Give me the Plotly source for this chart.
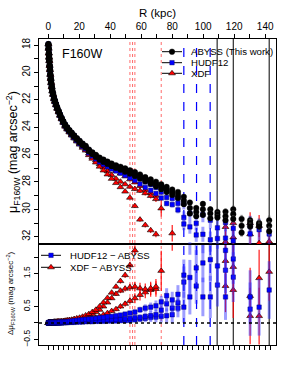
import math
import plotly.graph_objects as go

# ---------------- data ----------------
R_kpc = [0.08, 0.2, 0.35, 0.5, 0.65, 0.85, 1.05, 1.3, 1.55, 1.85, 2.2, 2.6, 3.1, 3.7, 4.3, 5.0,
         5.8, 6.7, 7.6, 8.6, 9.7, 10.9, 12.2, 13.6, 15.1, 16.7, 18.4, 20.2, 22.1, 24.1, 26.2,
         28.4, 30.7, 33.1, 35.6, 38.2, 40.9, 43.7, 46.6, 49.6, 52.7, 55.9, 59.2, 62.6, 66.1,
         69.5, 72.9, 76.4, 80.0, 83.7, 87.5, 91.4, 95.5, 99.8, 104.6, 109.2, 114.4, 119.4,
         124.8, 130.3, 136.1, 142.6]

abyss_1 = [17.93, 18.23, 18.58, 18.88, 19.13, 19.48, 19.78, 20.13, 20.43, 20.73, 21.03, 21.33,
           21.58, 21.88, 22.08, 22.33, 22.58, 22.83, 23.08, 23.33, 23.57, 23.81, 24.01, 24.21,
           24.40, 24.60, 24.80, 24.99, 25.19, 25.36, 25.63, 25.83, 26.02, 26.22, 26.36, 26.51,
           26.65, 26.78, 26.89, 27.01, 27.14, 27.28, 27.45, 27.65, 27.81, 27.98, 28.17, 28.36,
           28.55, 28.73, 29.08, 29.5, 29.9, 29.6, 30.0, 30.2, 30.17, 30.0, 30.7, 30.8, 31.0, 30.8]
abyss_2 = [17.95, 18.25, 18.6, 18.9, 19.15, 19.5, 19.8, 20.15, 20.45, 20.75, 21.05, 21.35,
           21.6, 21.9, 22.1, 22.35, 22.6, 22.85, 23.1, 23.35, 23.6, 23.85, 24.05, 24.25,
           24.45, 24.65, 24.85, 25.05, 25.25, 25.42, 25.7, 25.9, 26.1, 26.3, 26.45, 26.6,
           26.75, 26.88, 27.0, 27.13, 27.27, 27.42, 27.6, 27.8, 27.97, 28.15, 28.35, 28.55,
           28.75, 28.95, 29.35, 29.9, 30.2, 30.0, 30.3, 30.4, 30.5, 30.35, 31.2, 31.0, 31.1, 31.2]
abyss_3 = [17.97, 18.27, 18.62, 18.92, 19.17, 19.52, 19.82, 20.17, 20.47, 20.77, 21.07, 21.37,
           21.62, 21.92, 22.12, 22.37, 22.62, 22.87, 23.12, 23.37, 23.63, 23.89, 24.09, 24.29,
           24.50, 24.70, 24.90, 25.11, 25.31, 25.48, 25.77, 25.97, 26.18, 26.38, 26.54, 26.69,
           26.85, 26.98, 27.11, 27.25, 27.40, 27.56, 27.75, 27.95, 28.13, 28.32, 28.53, 28.74,
           28.95, 29.17, 29.62, 30.3, 30.5, 30.4, 30.65, 30.6, 30.8, 30.7, 31.7, 31.26, 31.26, 31.6]

# HUDF12 - ABYSS (one per profile)
d_hudf_1 = [0.0, 0.0, 0.0, 0.0, 0.0, 0.0, 0.0, 0.0, 0.0, 0.0, 0.0, 0.0, 0.0, 0.0, 0.0, 0.0,
            0.0, 0.0, 0.0, 0.0, 0.01, 0.01, 0.01, 0.02, 0.02, 0.02, 0.03, 0.03, 0.03, 0.04, 0.04,
            0.04, 0.05, 0.05, 0.05, 0.06, 0.06, 0.06, 0.07, 0.07, 0.08, 0.10, 0.12, 0.14, 0.17,
            0.18, 0.20, 0.22, 0.25, 0.45, 0.48, 0.79, 1.12, 0.79, 0.79, 1.15, 0.79, 1.39,
            None, 0.42, 0.48, 1.0]
d_hudf_2 = [0.0, 0.0, 0.01, 0.01, 0.01, 0.01, 0.01, 0.01, 0.01, 0.01, 0.01, 0.01, 0.01, 0.01,
            0.01, 0.01, 0.01, 0.01, 0.02, 0.02, 0.02, 0.02, 0.03, 0.03, 0.04, 0.04, 0.05, 0.05,
            0.06, 0.06, 0.07, 0.07, 0.08, 0.08, 0.09, 0.10, 0.10, 0.11, 0.12, 0.13, 0.14, 0.16,
            0.17, 0.20, 0.22, 0.25, 0.39, 0.58, 0.45, 0.61, 1.24, 1.38, 1.67, 1.82, 1.92, 1.73,
            1.6, 1.94, None, 0.79, None, None]
d_hudf_3 = [0.0, 0.01, 0.01, 0.01, 0.01, 0.02, 0.02, 0.02, 0.02, 0.02, 0.02, 0.02, 0.02, 0.02,
            0.02, 0.02, 0.02, 0.02, 0.03, 0.03, 0.03, 0.03, 0.04, 0.05, 0.06, 0.07, 0.08, 0.09,
            0.10, 0.11, 0.12, 0.13, 0.14, 0.16, 0.17, 0.19, 0.20, 0.22, 0.24, 0.27, 0.30, 0.33,
            0.40, 0.45, 0.48, 0.52, 0.64, 0.83, 0.70, 0.87, 1.45, 2.6, 2.6, 2.7, 2.8, 2.9,
            2.2, 2.7, None, None, None, None]

# XDF - ABYSS (one per profile)
d_xdf_1 = [0.0, 0.0, 0.0, 0.0, 0.01, 0.01, 0.01, 0.01, 0.01, 0.01, 0.01, 0.01, 0.01, 0.02,
           0.02, 0.02, 0.02, 0.02, 0.02, 0.03, 0.03, 0.03, 0.04, 0.04, 0.05, 0.05, 0.06, 0.07,
           0.08, 0.09, 0.11, 0.13, 0.16, 0.20, 0.25, 0.30, 0.36, 0.42, 0.50, 0.58, 0.67, 0.75,
           0.85, 0.93, 1.0, 1.03, None, None, None, None, None, None, None, None, None, None,
           1.12, 1.0, None, 0.21, 0.21, 1.55]
d_xdf_2 = [0.0, 0.01, 0.01, 0.01, 0.01, 0.01, 0.02, 0.02, 0.02, 0.02, 0.02, 0.02, 0.02, 0.03,
           0.03, 0.03, 0.03, 0.03, 0.04, 0.04, 0.05, 0.06, 0.07, 0.08, 0.09, 0.10, 0.11, 0.13,
           0.15, 0.18, 0.22, 0.27, 0.33, 0.40, 0.50, 0.62, 0.75, 0.88, 0.98, 1.04, 1.08, 1.10,
           1.05, 1.02, 1.05, 1.10, 1.58, None, None, None, None, None, None, None, None, None,
           1.88, 1.7, None, 0.82, 1.36, None]
d_xdf_3 = [0.0, 0.01, 0.01, 0.02, 0.02, 0.02, 0.02, 0.02, 0.03, 0.03, 0.03, 0.03, 0.03, 0.04,
           0.04, 0.04, 0.05, 0.05, 0.05, 0.05, 0.06, 0.07, 0.08, 0.09, 0.10, 0.12, 0.14, 0.16,
           0.19, 0.23, 0.27, 0.33, 0.40, 0.50, 0.62, 0.76, 0.92, 1.10, 1.27, 1.45, 1.75, 2.2,
           3.0, 3.2, 3.4, 3.5, None, None, 2.8, None, None, None, None, None, None, None,
           2.6, 2.6, None, None, None, None]

err_abyss = [0] * 36 + [0.02, 0.02, 0.03, 0.03, 0.04, 0.05, 0.05, 0.06, 0.07, 0.08, 0.09, 0.10,
                        0.11, 0.12, 0.15, 0.18, 0.20, 0.20, 0.22, 0.25, 0.25, 0.28, 0.30, 0.30,
                        0.32, 0.35]
err_hudf = [0] * 36 + [0.03, 0.03, 0.04, 0.05, 0.06, 0.07, 0.08, 0.10, 0.12, 0.14, 0.16, 0.20,
                       0.22, 0.25, 0.45, 0.50, 0.50, 0.55, 0.60, 0.60, 0.65, 0.70, 0.70, 0.75,
                       0.80, 0.80]
err_xdf = [0] * 32 + [0.02, 0.02, 0.03, 0.04, 0.05, 0.06, 0.07, 0.08, 0.10, 0.14, 0.16, 0.17,
                      0.19, 0.22, 0.60, 0.60, 0.60, 0.60, 0.70, 0.70, 0.70, 0.70, 0.70, 0.75,
                      0.75, 0.80, 0.80, 0.80, 0.80, 0.80]

# limiting radii (vertical lines)
lim_xdf = [52.7, 54.4, 55.9, 72.9]
lim_hudf = [87.5, 95.7, 104.5]
lim_abyss = [109.0, 119.4, 142.6]

top_ticks = [0, 20, 40, 60, 80, 100, 120, 140]

# ---------------- figure ----------------
FONT = "Liberation Sans, Arial, Helvetica, sans-serif"
fig = go.Figure()

# plot-area pixel frame (used only for placing text)
PL, PR, PT, PB = 39.0, 276.0, 39.0, 345.0


def px(xpix):
    return (xpix - PL) / (PR - PL)


def py(ypix):
    return (PB - ypix) / (PB - PT)


def comb(a, d):
    return [None if (x is None or y is None) else x + y for x, y in zip(a, d)]


def qerr(e1, e2):
    return [math.sqrt(a * a + b * b) for a, b in zip(e1, e2)]


RED = dict(symbol='triangle-up', size=6, color='#ff0000', line=dict(color='black', width=0.6))
BLUE = dict(symbol='square', size=4.5, color='#0000ff', line=dict(color='#000055', width=0.4))
BLACK = dict(symbol='circle', size=5.6, color='black', line=dict(color='black', width=0.4))
EB_RED = dict(type='data', color='rgba(255,0,0,0.9)', thickness=1.2, width=0)
EB_BLUE = dict(type='data', color='rgba(40,40,255,0.45)', thickness=3, width=0)
EB_BLACK = dict(type='data', color='rgba(90,90,90,0.55)', thickness=2.5, width=0)

abyss = [abyss_1, abyss_2, abyss_3]
d_hudf = [d_hudf_1, d_hudf_2, d_hudf_3]
d_xdf = [d_xdf_1, d_xdf_2, d_xdf_3]

# top panel
for a, d in zip(abyss, d_xdf):
    fig.add_trace(go.Scatter(x=R_kpc, y=comb(a, d), mode='markers', marker=RED,
                             error_y=dict(EB_RED, array=err_xdf), xaxis='x2', yaxis='y2',
                             showlegend=False))
for a, d in zip(abyss, d_hudf):
    fig.add_trace(go.Scatter(x=R_kpc, y=comb(a, d), mode='markers', marker=BLUE,
                             error_y=dict(EB_BLUE, array=err_hudf), xaxis='x2', yaxis='y2',
                             showlegend=False))
for a in abyss:
    fig.add_trace(go.Scatter(x=R_kpc, y=a, mode='markers', marker=BLACK,
                             error_y=dict(EB_BLACK, array=err_abyss), xaxis='x2', yaxis='y2',
                             showlegend=False))

# bottom panel
for d in d_xdf:
    fig.add_trace(go.Scatter(x=R_kpc, y=d, mode='markers', marker=RED,
                             error_y=dict(EB_RED, array=qerr(err_abyss, err_xdf)),
                             xaxis='x', yaxis='y', showlegend=False))
for d in d_hudf:
    fig.add_trace(go.Scatter(x=R_kpc, y=d, mode='markers', marker=BLUE,
                             error_y=dict(EB_BLUE, array=qerr(err_abyss, err_hudf)),
                             xaxis='x', yaxis='y', showlegend=False))

# ---- legend keys (overlay axis in pixel units) ----
legend_rows = [
    ("ABYSS (This work)", BLACK, 162, 51.7),
    ("HUDF12", BLUE, 162, 62.7),
    ("XDF", RED, 162, 73.3),
    ("HUDF12 \u2212 ABYSS", BLUE, 41, 255.3),
    ("XDF \u2212 ABYSS", RED, 41, 267.3),
]
annotations = []
for label, mk, x0, yy in legend_rows:
    fig.add_trace(go.Scatter(x=[x0, x0 + 20], y=[yy, yy], mode='lines',
                             line=dict(color='black', width=1), xaxis='x3', yaxis='y3',
                             showlegend=False, hoverinfo='skip'))
    fig.add_trace(go.Scatter(x=[x0 + 10], y=[yy], mode='markers', marker=mk,
                             xaxis='x3', yaxis='y3', showlegend=False, hoverinfo='skip'))
    annotations.append(dict(x=px(x0 + 27), y=py(yy), xref='paper', yref='paper', text=label,
                            showarrow=False, xanchor='left', yanchor='middle',
                            font=dict(family=FONT, size=9.6, color='black')))

annotations += [
    dict(x=px(82), y=py(54), xref='paper', yref='paper', text='F160W', showarrow=False,
         xanchor='center', yanchor='middle',
         font=dict(family=FONT, size=12.5, color='black')),
    dict(x=px(157), y=py(12.5), xref='paper', yref='paper', text='R (kpc)', showarrow=False,
         xanchor='center', yanchor='middle',
         font=dict(family=FONT, size=11.5, color='black')),
    dict(x=px(13), y=py(152), xref='paper', yref='paper', textangle=-90, showarrow=False,
         xanchor='center', yanchor='middle',
         text='\u03bc<sub>F160W</sub> (mag arcsec<sup>\u22122</sup>)',
         font=dict(family=FONT, size=12.5, color='black')),
    dict(x=px(10), y=py(293), xref='paper', yref='paper', textangle=-90, showarrow=False,
         xanchor='center', yanchor='middle',
         text='\u0394\u03bc<sub>F160W</sub> (mag arcsec<sup>\u22122</sup>)',
         font=dict(family=FONT, size=8, color='black')),
]

shapes = []
for v in lim_xdf:
    shapes.append(dict(type='line', xref='x', yref='paper', x0=v, x1=v, y0=0, y1=1, layer='below',
                       line=dict(color='rgba(255,70,70,0.8)', width=1, dash='dot')))
for v in lim_hudf:
    shapes.append(dict(type='line', xref='x', yref='paper', x0=v, x1=v, y0=0, y1=1, layer='below',
                       line=dict(color='#0000ff', width=1.2, dash='dash')))
for v in lim_abyss:
    shapes.append(dict(type='line', xref='x', yref='paper', x0=v, x1=v, y0=0, y1=1, layer='below',
                       line=dict(color='black', width=1)))
shapes.append(dict(type='line', xref='paper', yref='y', x0=0, x1=1, y0=0, y1=0,
                   line=dict(color='black', width=1.5, dash='dot')))

XR = [-6.0, 147.0]
split = 101.0 / 306.0
tickfont = dict(family=FONT, size=10, color='black')
axcommon = dict(showline=True, linecolor='black', mirror=True, showgrid=False, zeroline=False,
                ticks='outside', tickcolor='black', ticklen=4, tickwidth=1)

fig.update_layout(
    width=307, height=385,
    margin=dict(l=39, r=31, t=39, b=40, pad=0),
    paper_bgcolor='white', plot_bgcolor='rgba(0,0,0,0)',
    showlegend=False,
    xaxis=dict(axcommon, domain=[0, 1], anchor='y', range=XR, linewidth=1.2,
               tickvals=[i * 10.0 / 3.0 for i in range(44)], showticklabels=False),
    yaxis=dict(axcommon, domain=[0, split], anchor='x', range=[-0.667, 2.394], linewidth=1.2,
               tickvals=[-0.5, 0, 0.5, 1, 1.5, 2],
               ticktext=['\u22120.5', '', '0.5', '', '1.5', ''], tickangle=-90,
               tickfont=dict(family=FONT, size=8.5, color='black')),
    xaxis2=dict(axcommon, domain=[0, 1], anchor='y2', side='top', range=XR, linewidth=1.2,
                tickvals=list(range(0, 150, 10)),
                ticktext=[str(v) if v in top_ticks else '' for v in range(0, 150, 10)],
                tickfont=tickfont),
    yaxis2=dict(axcommon, domain=[split, 1], anchor='x2', range=[32.53, 17.56], linewidth=1.2,
                tickvals=list(range(18, 33)),
                ticktext=[str(v) if v % 2 == 0 else '' for v in range(18, 33)],
                tickangle=-90, tickfont=tickfont),
    xaxis3=dict(domain=[0, 1], anchor='y3', range=[PL, PR], visible=False, fixedrange=True),
    yaxis3=dict(domain=[0, 1], anchor='x3', range=[PB, PT], visible=False, fixedrange=True),
    annotations=annotations,
    shapes=shapes,
)

fig.write_html("out.html", config={'displayModeBar': False, 'staticPlot': True},
               post_script="document.body.style.margin='0px';document.body.style.overflow='hidden';")
